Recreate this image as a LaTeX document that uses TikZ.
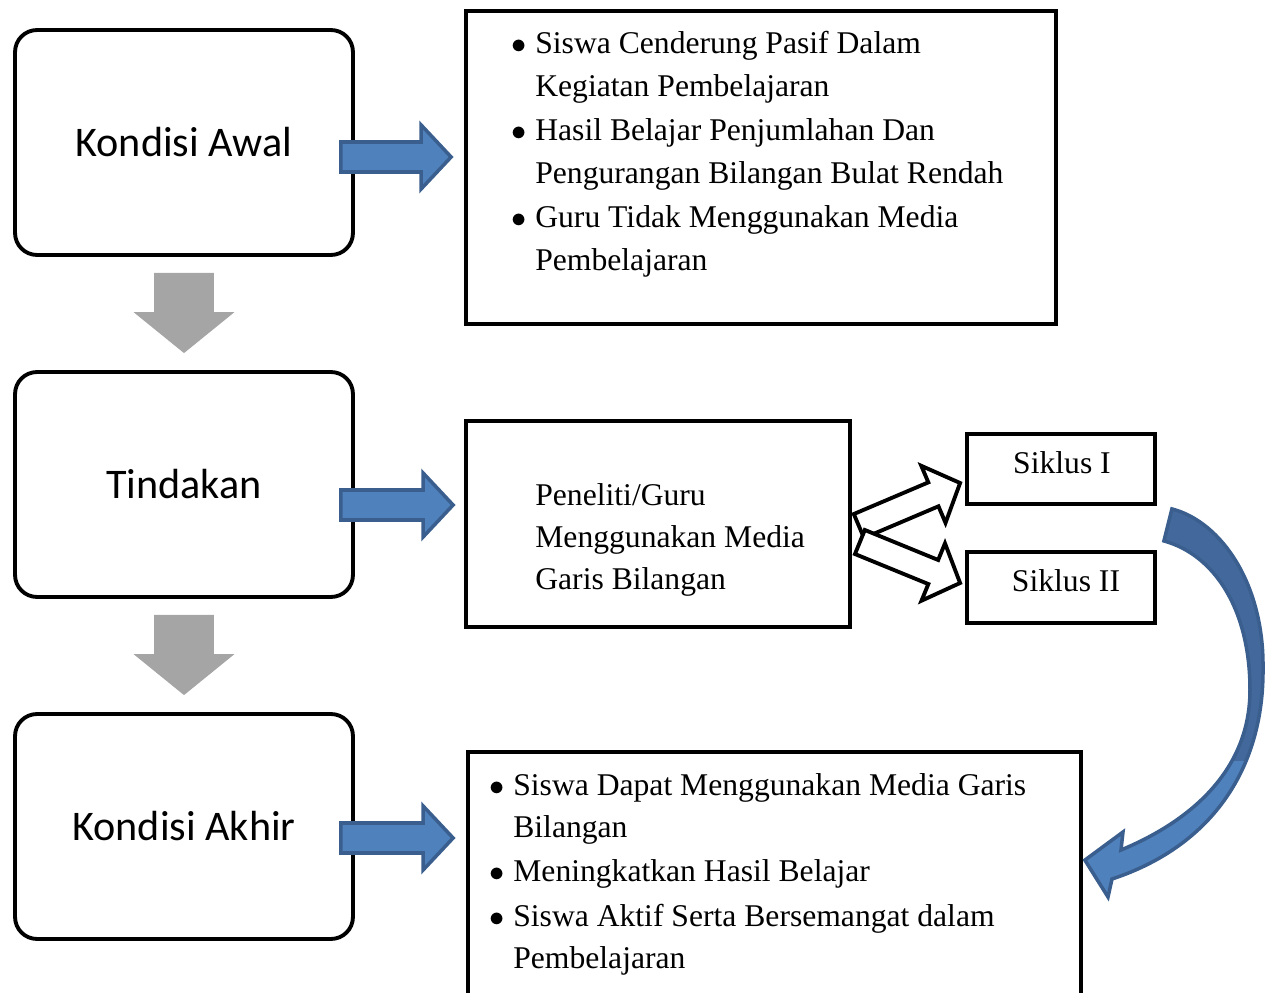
\documentclass[tikz,border=0pt]{standalone}
\usepackage{fontspec}
\setmainfont{Liberation Serif}
\newfontfamily\calibrifont{Carlito}
\usetikzlibrary{calc,positioning}

\definecolor{arrowblue}{HTML}{4F81BD}
\definecolor{arrowbluedark}{HTML}{43699C}
\definecolor{arrowblueline}{HTML}{3A5F8E}
\definecolor{arrowgray}{HTML}{A5A5A5}

% bullet line with hanging indent
\newcommand{\bitem}[1]{\ifvmode\vspace{1.5pt}\fi
  \hangindent=0.6cm\hangafter=1\noindent
  \makebox[0.6cm][l]{\hspace{0.12cm}$\bullet$}#1\par}

% block arrow: style, tail, tip, shaft half width, head half width, head length
\newcommand{\blockarrow}[6]{%
  \coordinate (ba-h) at ($(#3)!#6!(#2)$);
  \draw[#1] ($(#2)!#4!90:(#3)$) -- ($(ba-h)!#4!-90:(#2)$) -- ($(ba-h)!#5!-90:(#2)$)
    -- (#3) -- ($(ba-h)!#5!90:(#2)$) -- ($(ba-h)!#4!90:(#2)$)
    -- ($(#2)!#4!-90:(#3)$) -- cycle;
}

\begin{document}
\begin{tikzpicture}[
  x=0.02cm, y=-0.02cm,
  stagebox/.style={
    draw, line width=2.2pt, rounded corners=0.44cm,
    minimum width=6.76cm, minimum height=4.5cm, inner sep=0pt,
    font=\calibrifont\fontsize{24}{29}\selectfont
  },
  infobox/.style={draw, line width=2.2pt, inner sep=0pt},
  infotext/.style={
    anchor=base west, inner sep=0pt, align=flush left, text width=#1,
    font=\fontsize{18}{24}\selectfont
  },
  infotext/.default=11.5cm,
  bluearrow/.style={fill=arrowblue, draw=arrowblueline, line width=2pt},
  grayarrow/.style={fill=arrowgray, draw=none},
  whitearrow/.style={fill=white, draw=black, line width=2.2pt}
]
  \useasboundingbox (0,0) rectangle (1269,993);
  \clip (0,0) rectangle (1269,993);

  % --- left column: stages ---
  \node[stagebox] (awal) at (184,142.5) {Kondisi Awal};
  \node[stagebox] (tindakan) at (184,484.5) {Tindakan};
  \node[stagebox] (akhir) at (184,826.5) {Kondisi Akhir};

  % --- right column: boxes ---
  \node[infobox, minimum width=11.8cm, minimum height=6.26cm] (masalah) at (761,167.5) {};
  \node[infobox, minimum width=7.68cm, minimum height=4.12cm] (peneliti) at (658,524) {};
  \node[infobox, minimum width=3.76cm, minimum height=1.4cm] (siklus1) at (1061,469) {};
  \node[infobox, minimum width=3.76cm, minimum height=1.42cm] (siklus2) at (1061,587.5) {};
  \node[infobox, minimum width=12.26cm, minimum height=5.36cm] (hasil) at (774.5,886) {};

  % --- texts ---
  \node[infotext] (masalahtxt) at (505,54) {%
    \bitem{Siswa Cenderung Pasif Dalam\newline Kegiatan Pembelajaran}
    \bitem{Hasil Belajar Penjumlahan Dan\newline Pengurangan Bilangan Bulat Rendah}
    \bitem{Guru Tidak Menggunakan Media\newline Pembelajaran}};
  \node[infotext=7cm] (penelititxt) at (535,505) {Peneliti/Guru\\Menggunakan Media\\Garis Bilangan};
  \node[anchor=base, inner sep=0pt, font=\fontsize{18}{24}\selectfont] (siklus1txt) at (1062,474) {Siklus I};
  \node[anchor=base, inner sep=0pt, font=\fontsize{18}{24}\selectfont] (siklus2txt) at (1066,591) {Siklus II};
  \node[infotext=12cm] (hasiltxt) at (483,795) {%
    \bitem{Siswa Dapat Menggunakan Media Garis\newline Bilangan}
    \bitem{Meningkatkan Hasil Belajar}
    \bitem{Siswa Aktif Serta Bersemangat dalam\newline Pembelajaran}};

  % --- gray arrows down ---
  \coordinate (g1tail) at ($(awal.south)+(0,16)$);
  \coordinate (g1tip) at ($(tindakan.north)+(0,-17)$);
  \coordinate (g2tail) at ($(tindakan.south)+(0,16)$);
  \coordinate (g2tip) at ($(akhir.north)+(0,-17)$);
  \blockarrow{grayarrow}{g1tail}{g1tip}{0.6cm}{1.01cm}{0.82cm}
  \blockarrow{grayarrow}{g2tail}{g2tip}{0.6cm}{1.01cm}{0.82cm}

  % --- blue arrows right ---
  \coordinate (b1tail) at ($(awal.east)+(-14,14.5)$);
  \coordinate (b1tip) at ($(b1tail -| masalah.west)+(-13,0)$);
  \coordinate (b2tail) at ($(tindakan.east)+(-14,20.5)$);
  \coordinate (b2tip) at ($(b2tail -| peneliti.west)+(-11,0)$);
  \coordinate (b3tail) at ($(akhir.east)+(-14,11.5)$);
  \coordinate (b3tip) at ($(b3tail -| hasil.west)+(-13,0)$);
  \blockarrow{bluearrow}{b1tail}{b1tip}{0.30cm}{0.64cm}{0.6cm}
  \blockarrow{bluearrow}{b2tail}{b2tip}{0.30cm}{0.64cm}{0.6cm}
  \blockarrow{bluearrow}{b3tail}{b3tip}{0.30cm}{0.64cm}{0.6cm}

  % --- white arrows to the cycles ---
  \coordinate (w1tail) at ($(peneliti.east)+(7,2)$);
  \coordinate (w1tip) at ($(siklus1.west)+(-5,14)$);
  \coordinate (w2tail) at ($(peneliti.east)+(8,18)$);
  \coordinate (w2tip) at ($(siklus2.west)+(-5,-4.5)$);
  \blockarrow{whitearrow}{w1tail}{w1tip}{0.26cm}{0.62cm}{0.58cm}
  \blockarrow{whitearrow}{w2tail}{w2tip}{0.26cm}{0.62cm}{0.58cm}

  % --- curved arrow from the cycles to the result ---
  \coordinate (cvtop) at ($(siklus1.south east)+(15,3)$);
  \coordinate (cvbot) at ($(siklus1.south east)+(7,35)$);
  \coordinate (cvtip) at ($(hasil.north east)+(2,110)$);
  \path[save path=\curvepath] (cvtop) .. controls (1222,522) and (1264,585) .. (1263,668)
    .. controls (1264,765) and (1215,845) .. (1112,879) -- (1108,897) -- (cvtip)
    -- (1123,832) -- (1121,850) .. controls (1198,818) and (1250,765) .. (1250,690)
    .. controls (1250,610) and (1215,555) .. (cvbot) -- cycle;
  \fill[arrowblue, use path=\curvepath];
  \begin{scope}
    \clip (1100,480) rectangle (1269,760);
    \fill[arrowbluedark, use path=\curvepath];
  \end{scope}
  \draw[arrowblueline, line width=2pt, use path=\curvepath];
\end{tikzpicture}
\end{document}
